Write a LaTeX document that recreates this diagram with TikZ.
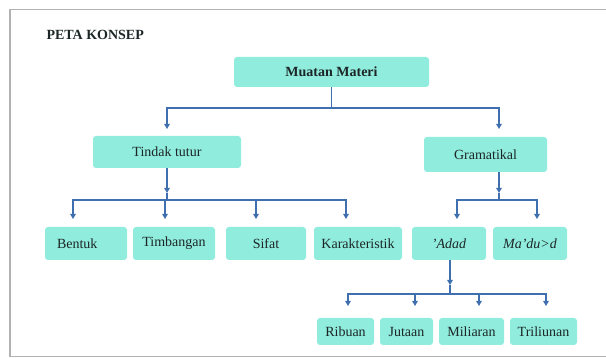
\documentclass[tikz,border=0pt]{standalone}
\usepackage{fontspec}
\setmainfont{Liberation Serif}
\usepackage{tikz}
\usetikzlibrary{arrows.meta}
\definecolor{boxfill}{HTML}{90ECDD}
\definecolor{linkblue}{HTML}{3F6FAE}
\definecolor{inktext}{HTML}{1C2626}

\begin{document}
\begin{tikzpicture}[
    x=1pt, y=-1pt,
    every node/.style={font=\fontsize{14}{16}\selectfont, text=inktext},
    box/.style={fill=boxfill, draw=none, rounded corners=3pt, inner sep=0pt},
    link/.style={draw=linkblue, line width=1.2pt},
    arr/.style={link, -{Triangle[length=5pt, width=5.5pt]}},
]
\useasboundingbox (0,0) rectangle (606,358);

% Frame
\draw[gray!60, line width=1.5pt] (606,9.5) -- (10,9.5) -- (10,356.5) -- (606,356.5);

% Title and top levels
\node[font=\fontsize{14}{16}\selectfont\bfseries, anchor=west] (title) at (43,35) {PETA KONSEP};
\node[box, minimum width=195pt, minimum height=30pt, font=\fontsize{14}{16}\selectfont\bfseries] (mm) at (331.5,72) {Muatan Materi};
\node[box, minimum width=148pt, minimum height=32pt] (tt) at (167,152) {Tindak tutur};
\node[box, minimum width=123pt, minimum height=35pt] (gr) at (485.5,154.5) {Gramatikal};

% Third level (y = 243.5)
\node[box, minimum width=82pt, minimum height=33pt, text width=58pt, align=left] (bentuk) at (86,243.5) {Bentuk};
\foreach \nm/\xx/\ww/\txt in {
  timbangan/174/82/Timbangan,
  sifat/266/80/Sifat,
  karakter/358/88/Karakteristik,
  adad/449/74/{\textit{'Adad}},
  madud/530/74/{\textit{Ma'du>d}}
}{
  \node[box, minimum width=\ww pt, minimum height=33pt] (\nm) at (\xx,243.5) {\txt};
}

% Fourth level (y = 331.5)
\foreach \nm/\xx/\ww/\txt in {
  ribuan/345.5/57/Ribuan,
  jutaan/406.5/53/Jutaan,
  miliaran/471.5/65/Miliaran,
  triliunan/543.5/67/Triliunan
}{
  \node[box, minimum width=\ww pt, minimum height=27pt] (\nm) at (\xx,331.5) {\txt};
}

% Muatan Materi -> Tindak tutur, Gramatikal
\coordinate (mm-bus) at (331.5,108);
\coordinate (tt-in) at (167,129);
\coordinate (gr-in) at (499,129);
\draw[link] (mm.south) -- (mm-bus);
\draw[arr] (mm-bus) -| (tt-in);
\draw[arr] (mm-bus) -| (gr-in);

% Tindak tutur -> four children
\coordinate (tt-mid) at (167,193);
\coordinate (tt-bus) at (167,200);
\draw[arr] (tt.south) -- (tt-mid);
\draw[link] (tt-mid) -- (tt-bus);
\foreach \nm/\ax in {bentuk/73, timbangan/165, sifat/256, karakter/346}{
  \coordinate (\nm-in) at (\ax,219);
  \draw[arr] (tt-bus) -| (\nm-in);
}

% Gramatikal -> 'Adad, Ma'du>d
\coordinate (gr-mid) at (499,193);
\coordinate (gr-bus) at (499,200);
\draw[arr] (gr.south -| gr-mid) -- (gr-mid);
\draw[link] (gr-mid) -- (gr-bus);
\foreach \nm/\ax in {adad/457, madud/537}{
  \coordinate (\nm-in) at (\ax,219);
  \draw[arr] (gr-bus) -| (\nm-in);
}

% 'Adad -> four children
\coordinate (adad-mid) at (450,285);
\coordinate (adad-bus) at (450,294);
\draw[arr] (adad.south -| adad-mid) -- (adad-mid);
\draw[link] (adad-mid) -- (adad-bus);
\foreach \nm/\ax in {ribuan/348, jutaan/415, miliaran/479, triliunan/546}{
  \coordinate (\nm-in) at (\ax,306);
  \draw[arr] (adad-bus) -| (\nm-in);
}

\end{tikzpicture}
\end{document}
